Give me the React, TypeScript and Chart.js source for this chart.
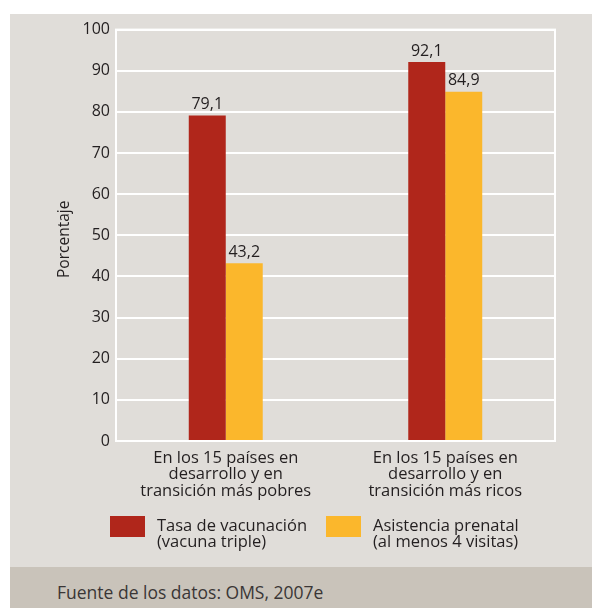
import React, { useEffect, useRef } from "react";
import { Chart, registerables } from "chart.js";

Chart.register(...registerables);

const categories = [
  ["En los 15 países en", "desarrollo y en", "transición más pobres"],
  ["En los 15 países en", "desarrollo y en", "transición más ricos"],
];
const vaccinationValues = [79.1, 92.1];
const prenatalValues = [43.2, 84.9];
const seriesNames = ["Tasa de vacunación (vacuna triple)", "Asistencia prenatal (al menos 4 visitas)"];
const legendLines = [
  ["Tasa de vacunación", "(vacuna triple)"],
  ["Asistencia prenatal", "(al menos 4 visitas)"],
];
const seriesColors = ["#b0261b", "#fbb72c"];
const yMin = 0;
const yMax = 100;
const yStep = 10;
const yAxisTitle = "Porcentaje";
const sourceNote = "Fuente de los datos: OMS, 2007e";

const FONT = "'Open Sans', 'Noto Sans', sans-serif";
const TEXT = "#231f20";
const PANEL = "#e0ddd9";
const FOOTER = "#c9c3ba";

const framePlugin = {
  id: "frame",
  beforeDatasetsDraw(chart: any) {
    const { ctx, chartArea: a } = chart;
    ctx.save();
    ctx.strokeStyle = "#ffffff";
    ctx.lineWidth = 2;
    ctx.strokeRect(a.left, a.top, a.right - a.left, a.bottom - a.top);
    ctx.restore();
  },
};

const valueLabelPlugin = {
  id: "valueLabels",
  afterDatasetsDraw(chart: any) {
    const { ctx } = chart;
    ctx.save();
    ctx.font = `16px ${FONT}`;
    ctx.fillStyle = TEXT;
    ctx.textAlign = "center";
    ctx.textBaseline = "bottom";
    chart.data.datasets.forEach((ds: any, di: number) => {
      const meta = chart.getDatasetMeta(di);
      meta.data.forEach((el: any, i: number) => {
        const v = ds.data[i] as number;
        ctx.fillText(v.toFixed(1).replace(".", ","), el.x, el.y - 3);
      });
    });
    ctx.restore();
  },
};

const axisTitlePlugin = {
  id: "axisTitle",
  afterDraw(chart: any) {
    const { ctx, chartArea: a } = chart;
    ctx.save();
    ctx.font = `15.5px ${FONT}`;
    ctx.fillStyle = TEXT;
    ctx.textAlign = "center";
    ctx.textBaseline = "middle";
    ctx.translate(a.left - 51, (a.top + a.bottom) / 2 + 4);
    ctx.rotate(-Math.PI / 2);
    ctx.fillText(yAxisTitle, 0, 0);
    ctx.restore();
  },
};

const legendPlugin = {
  id: "customLegend",
  afterDraw(chart: any) {
    const { ctx, chartArea: a } = chart;
    const top = a.bottom + 75;
    const starts = [a.left - 6, a.left + 210];
    ctx.save();
    ctx.font = `16.5px ${FONT}`;
    ctx.textAlign = "left";
    ctx.textBaseline = "middle";
    chart.data.datasets.forEach((ds: any, di: number) => {
      const x = starts[di];
      ctx.fillStyle = ds.backgroundColor;
      ctx.fillRect(x, top, 35, 21);
      ctx.fillStyle = TEXT;
      legendLines[di].forEach((line, li) => {
        ctx.fillText(line, x + 47, top + 10 + li * 16.5);
      });
    });
    ctx.restore();
  },
};

function BarChart() {
  const ref = useRef<HTMLCanvasElement | null>(null);
  useEffect(() => {
    if (!ref.current) return;
    const chart = new Chart(ref.current, {
      type: "bar",
      data: {
        labels: categories as any,
        datasets: [
          {
            label: seriesNames[0],
            data: vaccinationValues,
            backgroundColor: seriesColors[0],
            borderWidth: 0,
          },
          {
            label: seriesNames[1],
            data: prenatalValues,
            backgroundColor: seriesColors[1],
            borderWidth: 0,
          },
        ],
      },
      options: {
        responsive: false,
        animation: false,
        devicePixelRatio: 1,
        datasets: { bar: { categoryPercentage: 0.337, barPercentage: 1 } },
        layout: { padding: { top: 13, right: 37, left: 0, bottom: 0 } },
        plugins: {
          legend: { display: false },
          tooltip: { enabled: false },
        },
        scales: {
          x: {
            grid: { display: false },
            border: { display: false },
            ticks: {
              color: TEXT,
              font: { family: FONT, size: 16.5, lineHeight: 1.0 },
              padding: 1,
              maxRotation: 0,
              autoSkip: false,
            },
            afterFit(scale: any) {
              scale.height = 126;
            },
          },
          y: {
            min: yMin,
            max: yMax,
            grid: { color: "#ffffff", lineWidth: 2, drawTicks: false },
            border: { display: false },
            ticks: {
              stepSize: yStep,
              color: TEXT,
              font: { family: FONT, size: 16 },
              padding: 6,
            },
            afterFit(scale: any) {
              scale.width = 106;
            },
          },
        },
      },
      plugins: [framePlugin, valueLabelPlugin, axisTitlePlugin, legendPlugin],
    });
    return () => chart.destroy();
  }, []);
  return (
    <canvas
      ref={ref}
      width={582}
      height={553}
      style={{ position: "absolute", left: 10, top: 14, width: 582, height: 553 }}
    />
  );
}

export default function App() {
  return (
    <div
      style={{
        position: "absolute",
        left: 0,
        top: 0,
        width: 592,
        height: 608,
        background: "#ffffff",
        overflow: "hidden",
        fontFamily: FONT,
      }}
    >
      <div style={{ position: "absolute", left: 10, top: 14, width: 582, height: 553, background: PANEL }} />
      <div style={{ position: "absolute", left: 10, top: 567, width: 582, height: 41, background: FOOTER }} />
      <div
        style={{
          position: "absolute",
          left: 57,
          top: 580,
          fontSize: 17.5,
          lineHeight: "24px",
          color: "#3a3636",
          whiteSpace: "nowrap",
        }}
      >
        {sourceNote}
      </div>
      <BarChart />
    </div>
  );
}
